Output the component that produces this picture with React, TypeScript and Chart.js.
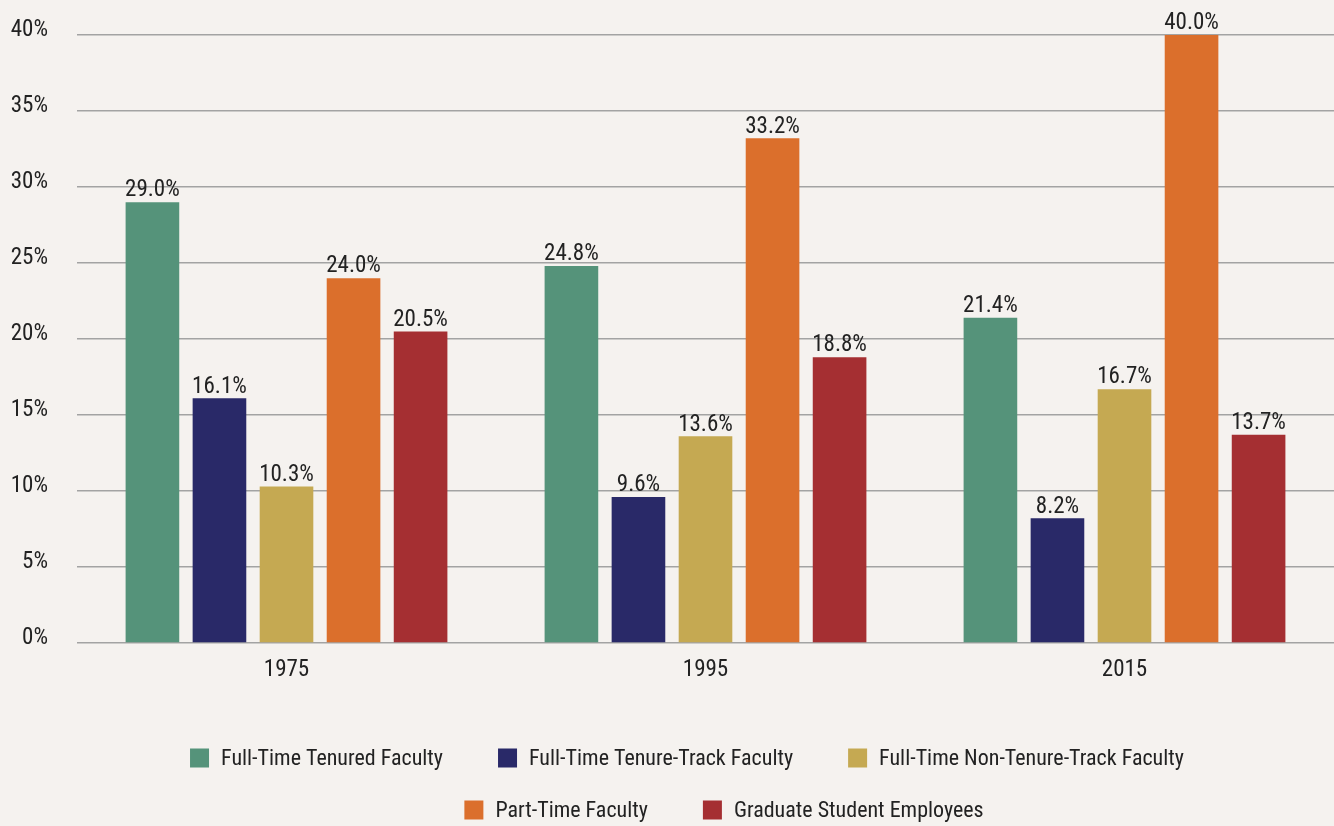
import { useEffect, useRef } from 'react';
import { Chart, registerables } from 'chart.js';

Chart.register(...registerables);

const years = ['1975', '1995', '2015'];
const tenured = [29.0, 24.8, 21.4];
const tenureTrack = [16.1, 9.6, 8.2];
const nonTenureTrack = [10.3, 13.6, 16.7];
const partTime = [24.0, 33.2, 40.0];
const gradStudents = [20.5, 18.8, 13.7];
const seriesNames = [
  'Full-Time Tenured Faculty',
  'Full-Time Tenure-Track Faculty',
  'Full-Time Non-Tenure-Track Faculty',
  'Part-Time Faculty',
  'Graduate Student Employees',
];
const seriesColors = ['#55937a', '#292968', '#c5a952', '#db6f2c', '#a52f32'];
const yMax = 40;
const yStep = 5;

const BG = '#f5f2ef';
const TEXT = '#222222';
const FONT = "'Liberation Sans Narrow', 'Roboto Condensed', 'DejaVu Sans Condensed', sans-serif";

const bgPlugin = {
  id: 'bgFill',
  beforeDraw(chart: any) {
    const { ctx, width, height } = chart;
    ctx.save();
    ctx.fillStyle = BG;
    ctx.fillRect(0, 0, width, height);
    ctx.restore();
  },
};

const valueLabels = {
  id: 'valueLabels',
  afterDatasetsDraw(chart: any) {
    const { ctx } = chart;
    ctx.save();
    ctx.font = `23px ${FONT}`;
    ctx.fillStyle = TEXT;
    ctx.textAlign = 'center';
    ctx.textBaseline = 'bottom';
    chart.data.datasets.forEach((ds: any, di: number) => {
      const meta = chart.getDatasetMeta(di);
      meta.data.forEach((el: any, i: number) => {
        ctx.fillText(ds.data[i].toFixed(1) + '%', el.x, el.y);
      });
    });
    ctx.restore();
  },
};

const legendRows = [[0, 1, 2], [3, 4]];
const twoRowLegend = {
  id: 'twoRowLegend',
  afterDraw(chart: any) {
    const { ctx } = chart;
    const BOX = 19;
    const GAP = 12;
    const ITEM_GAP = 55;
    const rowY = [758, 810];
    const rowCenters = [687, 724];
    ctx.save();
    ctx.font = `22px ${FONT}`;
    ctx.textBaseline = 'middle';
    ctx.textAlign = 'left';
    legendRows.forEach((row, ri) => {
      const widths = row.map(
        (i) => BOX + GAP + ctx.measureText(chart.data.datasets[i].label).width
      );
      const total = widths.reduce((a, b) => a + b, 0) + ITEM_GAP * (row.length - 1);
      let x = rowCenters[ri] - total / 2;
      row.forEach((i, k) => {
        const ds = chart.data.datasets[i];
        ctx.fillStyle = ds.backgroundColor;
        ctx.fillRect(x, rowY[ri] - BOX / 2, BOX, BOX);
        ctx.fillStyle = TEXT;
        ctx.fillText(ds.label, x + BOX + GAP, rowY[ri] + 1);
        x += widths[k] + ITEM_GAP;
      });
    });
    ctx.restore();
  },
};

export default function App() {
  const canvasRef = useRef<HTMLCanvasElement | null>(null);

  useEffect(() => {
    document.body.style.margin = '0';
    document.body.style.background = BG;
    const canvas = canvasRef.current;
    if (!canvas) return;
    const seriesValues = [tenured, tenureTrack, nonTenureTrack, partTime, gradStudents];
    const chart = new Chart(canvas, {
      type: 'bar',
      data: {
        labels: years,
        datasets: seriesValues.map((vals, i) => ({
          label: seriesNames[i],
          data: vals,
          backgroundColor: seriesColors[i],
          borderWidth: 0,
          categoryPercentage: 0.8,
          barPercentage: 0.8,
        })),
      },
      options: {
        responsive: false,
        animation: false,
        layout: { padding: { top: 35, right: 0, bottom: 143, left: 0 } },
        plugins: {
          legend: { display: false },
          tooltip: { enabled: false },
        },
        scales: {
          x: {
            grid: { display: false, drawTicks: false },
            border: { display: false },
            ticks: { color: TEXT, font: { family: FONT, size: 23 }, padding: 13 },
            afterFit: (scale: any) => {
              scale.height = 40;
            },
          },
          y: {
            min: 0,
            max: yMax,
            grid: { color: '#a3a3a3', lineWidth: 1.5, drawTicks: false },
            border: { display: false },
            ticks: {
              stepSize: yStep,
              color: TEXT,
              font: { family: FONT, size: 23 },
              padding: 29,
              labelOffset: -5,
              callback: (v: any) => v + '%',
            },
            afterFit: (scale: any) => {
              scale.width = 77;
              scale.paddingTop = 0;
            },
          },
        },
      },
      plugins: [bgPlugin, valueLabels, twoRowLegend],
    });
    return () => chart.destroy();
  }, []);

  return (
    <div style={{ position: 'absolute', left: 0, top: 0, width: 1334, height: 826 }}>
      <canvas ref={canvasRef} width={1334} height={826} />
    </div>
  );
}
